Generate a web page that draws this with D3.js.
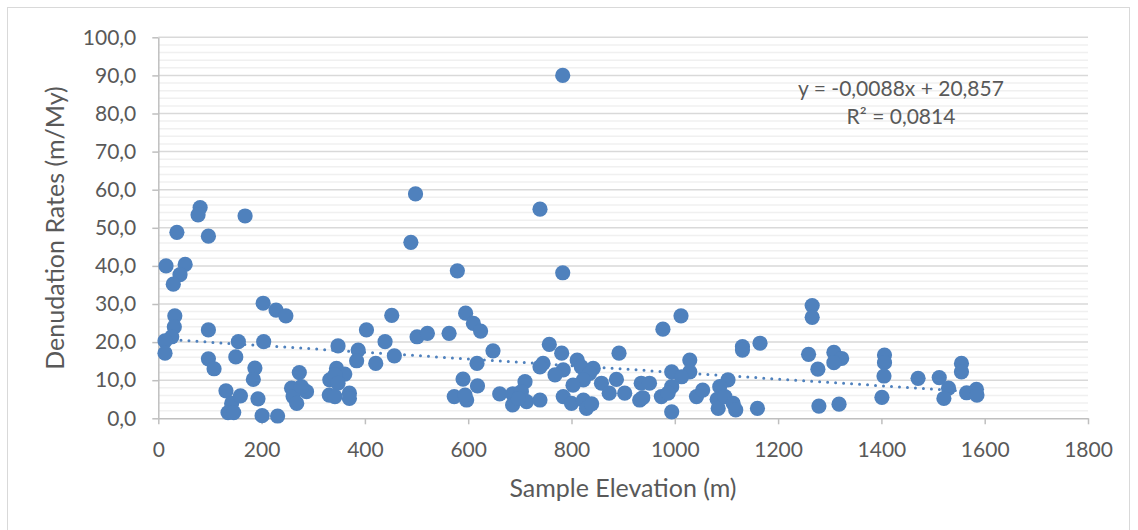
<!DOCTYPE html>
<html>
<head>
<meta charset="utf-8">
<script src="https://cdn.jsdelivr.net/npm/d3@7"></script>
<style>
  body { margin: 0; background: #fff; }
  svg { display: block; font-family: Lato, "Open Sans", sans-serif; }
</style>
</head>
<body>
<svg width="1138" height="530"></svg>
<script>
// elevation (m) and denudation rate (m/My)
let elevation = [
  783, 81, 77, 36, 97, 168, 498, 489, 739,
  15, 52, 42, 29, 32, 31, 26, 13, 13, 97, 97, 108, 155, 150,
  131, 142, 159, 135, 146, 203, 228, 247, 204, 187, 184, 193, 201, 231,
  273, 258, 261, 287, 268, 277, 345, 361, 332, 342, 348, 331, 342, 370, 370, 348,
  387, 384, 403, 421, 439, 452, 457,
  579, 783, 501, 521, 563, 595, 610, 624, 648, 617, 590, 618, 573, 597, 594,
  661, 686, 686, 710, 703, 713, 697, 739, 757, 781, 745, 739, 784, 768,
  811, 819, 842, 835, 823, 803, 784, 800, 823, 829, 839, 858, 873, 887, 892, 903,
  1012, 977, 935, 951, 932, 938, 994, 1029, 1029, 1013, 994, 974, 987, 994,
  1042, 1054, 1103, 1087, 1082, 1084, 1097, 1113, 1118, 1131, 1131, 1165, 1160,
  1266, 1266, 1259, 1277, 1308, 1323, 1308, 1279, 1318,
  1406, 1406, 1405, 1401, 1471, 1512, 1530, 1521, 1555, 1555, 1565, 1584, 1585
]
let denudation = [
  90.0, 55.3, 53.4, 48.8, 47.8, 53.1, 58.9, 46.2, 54.9,
  40.0, 40.4, 37.7, 35.2, 26.9, 24.0, 21.4, 20.3, 17.1, 23.2, 15.6, 13.0, 20.1, 16.1,
  7.2, 3.9, 5.9, 1.5, 1.5, 30.2, 28.4, 26.9, 20.1, 13.2, 10.2, 5.1, 0.7, 0.6,
  12.0, 7.9, 5.7, 7.0, 3.9, 8.3, 13.1, 11.6, 10.1, 11.4, 9.2, 6.1, 5.7, 6.6, 5.2, 19.0,
  17.9, 15.1, 23.2, 14.4, 20.1, 27.0, 16.4,
  38.7, 38.2, 21.4, 22.3, 22.3, 27.6, 24.9, 22.9, 17.7, 14.4, 10.3, 8.5, 5.7, 4.8, 6.1,
  6.4, 6.4, 3.5, 9.6, 7.0, 4.4, 5.2, 4.8, 19.4, 17.1, 14.4, 13.5, 12.7, 11.4,
  15.3, 13.5, 13.1, 11.8, 10.1, 8.7, 5.7, 3.9, 4.8, 2.6, 3.8, 9.2, 6.6, 10.2, 17.1, 6.6,
  26.9, 23.4, 9.2, 9.2, 4.8, 5.4, 12.2, 15.3, 12.2, 10.9, 8.3, 5.7, 6.6, 1.7,
  5.7, 7.4, 10.1, 8.3, 5.0, 2.6, 5.7, 3.9, 2.2, 18.8, 17.9, 19.7, 2.6,
  29.6, 26.5, 16.8, 12.9, 17.3, 15.7, 14.6, 3.2, 3.7,
  16.6, 14.6, 11.1, 5.5, 10.5, 10.7, 7.9, 5.2, 14.4, 12.2, 6.7, 7.6, 6.1
]

let xTicks = [0, 200, 400, 600, 800, 1000, 1200, 1400, 1600, 1800]
let yTicks = [0, 10, 20, 30, 40, 50, 60, 70, 80, 90, 100]
let yMinor = d3.range(2, 100, 2).filter(v => v % 10 != 0)

// trendline from the equation on the chart
let slope = -0.0088
let intercept = 20.857
let equationLines = ["y = -0,0088x + 20,857", "R² = 0,0814"]

let blue = "#4f81bd"
let textColor = "#595959"

var svg = d3.select("svg")

let x = d3.scaleLinear().domain([0, 1800]).range([158.3, 1088])
let y = d3.scaleLinear().domain([0, 100]).range([418.3, 37.3])

// cadre
svg.append("rect")
  .attr("x", 7.5).attr("y", 7.5)
  .attr("width", 1122).attr("height", 540)
  .attr("fill", "none")
  .attr("stroke", "#d9d9d9")

// grille
svg.append("g").selectAll("line")
  .data(yMinor)
  .join("line")
  .attr("x1", x(0)).attr("x2", x(1800))
  .attr("y1", d => y(d)).attr("y2", d => y(d))
  .attr("stroke", "#f0f0f0")
  .attr("stroke-width", 1.5)

svg.append("g").selectAll("line")
  .data(yTicks.filter(d => d > 0))
  .join("line")
  .attr("x1", x(0)).attr("x2", x(1800))
  .attr("y1", d => y(d)).attr("y2", d => y(d))
  .attr("stroke", "#d9d9d9")
  .attr("stroke-width", 1.5)

// axes
let fmt = d => d.toFixed(1).replace(".", ",")

let gy = svg.append("g")
  .attr("transform", `translate(${x(0)},0)`)
  .call(d3.axisLeft(y).tickValues(yTicks).tickFormat(fmt).tickSize(6).tickSizeOuter(0).tickPadding(16))
let gx = svg.append("g")
  .attr("transform", `translate(0,${y(0)})`)
  .call(d3.axisBottom(x).tickValues(xTicks).tickFormat(d3.format("d")).tickSize(6).tickSizeOuter(0).tickPadding(18))

for (let g of [gx, gy]) {
  g.select(".domain").attr("stroke", "#bfbfbf").attr("stroke-width", 1.5)
  g.selectAll(".tick line").attr("stroke", "#bfbfbf").attr("stroke-width", 1.5)
  g.selectAll(".tick text")
    .attr("fill", textColor)
    .attr("font-size", 21)
    .attr("font-family", "Lato, sans-serif")
}

// titres
svg.append("text")
  .attr("x", 623).attr("y", 497)
  .attr("text-anchor", "middle")
  .attr("font-size", 25)
  .attr("fill", textColor)
  .text("Sample Elevation (m)")

svg.append("text")
  .attr("transform", "translate(64,228) rotate(-90)")
  .attr("text-anchor", "middle")
  .attr("font-size", 25)
  .attr("fill", textColor)
  .text("Denudation Rates (m/My)")

// courbe de tendance
let xmin = d3.min(elevation), xmax = d3.max(elevation)
svg.append("line")
  .attr("x1", x(xmin)).attr("y1", y(slope * xmin + intercept))
  .attr("x2", x(xmax)).attr("y2", y(slope * xmax + intercept))
  .attr("stroke", blue)
  .attr("stroke-width", 3)
  .attr("stroke-linecap", "round")
  .attr("stroke-dasharray", "0 8")

// points
svg.append("g").selectAll("circle")
  .data(elevation.map((e, i) => [e, denudation[i]]))
  .join("circle")
  .attr("cx", d => x(d[0]))
  .attr("cy", d => y(d[1]))
  .attr("r", 7.6)
  .attr("fill", blue)

// equation
svg.append("g").selectAll("text")
  .data(equationLines)
  .join("text")
  .attr("x", 901)
  .attr("y", (d, i) => 96 + i * 28)
  .attr("text-anchor", "middle")
  .attr("font-size", 21)
  .attr("fill", textColor)
  .text(d => d)
</script>
</body>
</html>
